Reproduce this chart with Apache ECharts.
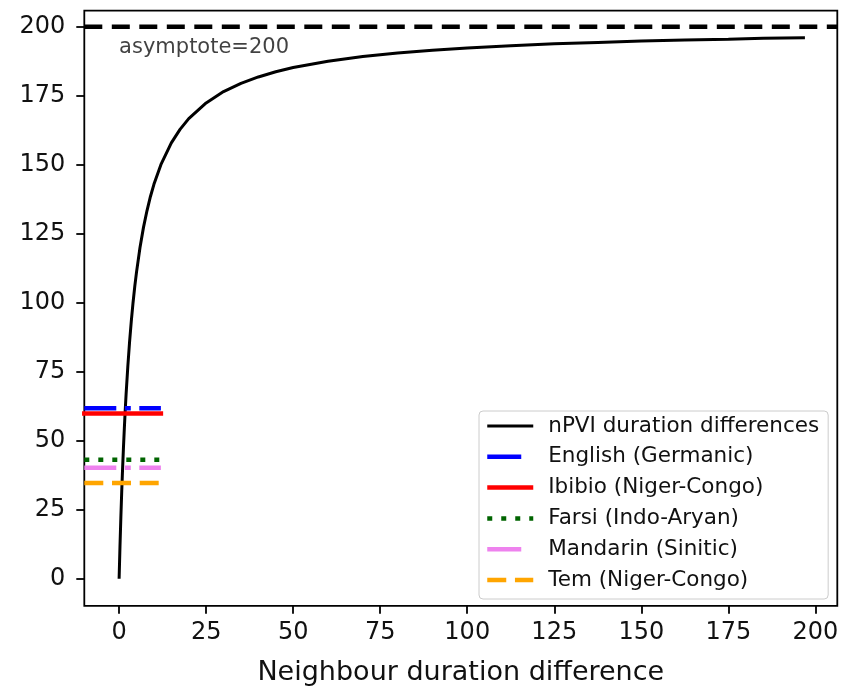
<!DOCTYPE html>
<html>
<head>
<meta charset="utf-8">
<script src="https://cdn.jsdelivr.net/npm/echarts@6/dist/echarts.min.js"></script>
<style>html,body{margin:0;padding:0;background:#fff;}#chart{width:842px;height:686px;}</style>
</head>
<body>
<div id="chart"></div>
<script>
// ---- data ----
const curveName = 'nPVI duration differences';
const curveX = [0,0.25,0.5,0.75,1,1.25,1.5,1.75,2,2.5,3,3.5,4,4.5,5,6,7,8,9,10,12,15,17.5,20,25,30,35,40,45,50,60,70,80,90,100,112.5,125,137.5,150,162.5,175,185,197];
const curveY = [0,11.8,22.2,31.6,40,47.6,54.5,60.9,66.7,76.9,85.7,93.3,100,105.9,111.1,120,127.3,133.3,138.5,142.9,150,157.9,162.8,166.7,172.4,176.5,179.5,181.8,183.7,185.2,187.5,189.2,190.5,191.5,192.3,193.1,193.8,194.3,194.8,195.2,195.5,195.8,196];
const langNames = ['English (Germanic)','Ibibio (Niger-Congo)','Farsi (Indo-Aryan)','Mandarin (Sinitic)','Tem (Niger-Congo)'];
const langValues = [61.8, 59.9, 43.1, 40.2, 34.7];
const langSpan = [-10, 12];
const asymptoteValue = 200;
const asymptoteText = 'asymptote=200';
const annotationAt = [0, 190];
const xTicks = [0,25,50,75,100,125,150,175,200];
const yTicks = [0,25,50,75,100,125,150,175,200];
const xRange = [-10, 206.3];
const yRange = [-9.8, 205.8];
const xLabel = 'Neighbour duration difference';

// ---- styles ----
const FONT = 'DejaVu Sans';
const langStyles = [
  {color:'#0000ff', type:[32,8.5,6,8.5], cap:'butt', legendType:[34,30]},
  {color:'#ff0000', type:'solid', cap:'square', legendType:'solid'},
  {color:'#006400', type:[5,9], cap:'butt', legendType:[5,9]},
  {color:'#ee82ee', type:[32,8.5,6,8.5], cap:'butt', legendType:[34,30]},
  {color:'#ffa500', type:[19,8.7], cap:'butt', legendType:[19,8.7]}
];

const series = [];
series.push({
  name: curveName, type:'line', symbol:'none', smooth:false,
  data: curveX.map((x,i)=>[x, curveY[i]]),
  lineStyle:{color:'#000', width:3}, itemStyle:{color:'#000'}, z:2, silent:true
});
langNames.forEach((n,i)=>{
  series.push({
    name:n, type:'line', symbol:'none',
    data: langSpan.map(x=>[x, langValues[i]]),
    lineStyle:{color:langStyles[i].color, width:4.5, type:langStyles[i].type, cap:langStyles[i].cap},
    itemStyle:{color:langStyles[i].color}, z:3+i, silent:true
  });
});
series.push({
  name:'asymptote', type:'line', symbol:'none',
  data: xRange.map(x=>[x, asymptoteValue]),
  lineStyle:{color:'#000', width:4.5, type:[18,9.5]}, z:10, silent:true
});
series.push({
  name:'annotation', type:'scatter', symbolSize:0,
  data:[annotationAt],
  label:{show:true, formatter:asymptoteText, position:[0,0], align:'left', verticalAlign:'bottom',
    offset:[0,4], fontFamily:FONT, fontSize:21, color:'#111', lineHeight:21},
  z:11, silent:true
});

const legendData = [{name:curveName}].concat(langNames.map((n,i)=>({
  name:n,
  lineStyle:{color:langStyles[i].color, width:4.5, type:langStyles[i].legendType, cap:'butt'}
})));

const chart = echarts.init(document.getElementById('chart'), null, {renderer:'canvas'});
chart.setOption({
  animation:false,
  backgroundColor:'#fff',
  grid:{left:84.3, right:4.7, top:10.7, bottom:80.2, show:true, borderColor:'#000', borderWidth:1.8,
    backgroundColor:'transparent', containLabel:false, outerBoundsMode:'none'},
  xAxis:{
    type:'value', min:xRange[0], max:xRange[1],
    name:xLabel, nameLocation:'middle', nameGap:54,
    nameTextStyle:{fontFamily:FONT, fontSize:27, color:'#111'},
    axisLine:{show:false, onZero:false},
    axisTick:{show:true, length:8, inside:false, customValues:xTicks, lineStyle:{color:'#000', width:1.8}},
    axisLabel:{show:true, customValues:xTicks, margin:15, fontFamily:FONT, fontSize:24, color:'#111'},
    splitLine:{show:false}
  },
  yAxis:{
    type:'value', min:yRange[0], max:yRange[1],
    axisLine:{show:false, onZero:false},
    axisTick:{show:true, length:8, inside:false, customValues:yTicks, lineStyle:{color:'#000', width:1.8}},
    axisLabel:{show:true, customValues:yTicks, margin:19, fontFamily:FONT, fontSize:24, color:'#111'},
    splitLine:{show:false}
  },
  legend:{
    data:legendData,
    orient:'vertical', left:479, top:411,
    itemWidth:46, itemHeight:21, itemGap:8.8,
    padding:[4,9,8,6],
    itemStyle:{opacity:0},
    lineStyle:{width:'inherit'},
    backgroundColor:'rgba(255,255,255,0.8)', borderColor:'#cccccc', borderWidth:1, borderRadius:4,
    textStyle:{fontFamily:FONT, fontSize:21.5, color:'#111', lineHeight:21, padding:[0,0,0,10]},
    selectedMode:false
  },
  series:series
});
</script>
</body>
</html>
